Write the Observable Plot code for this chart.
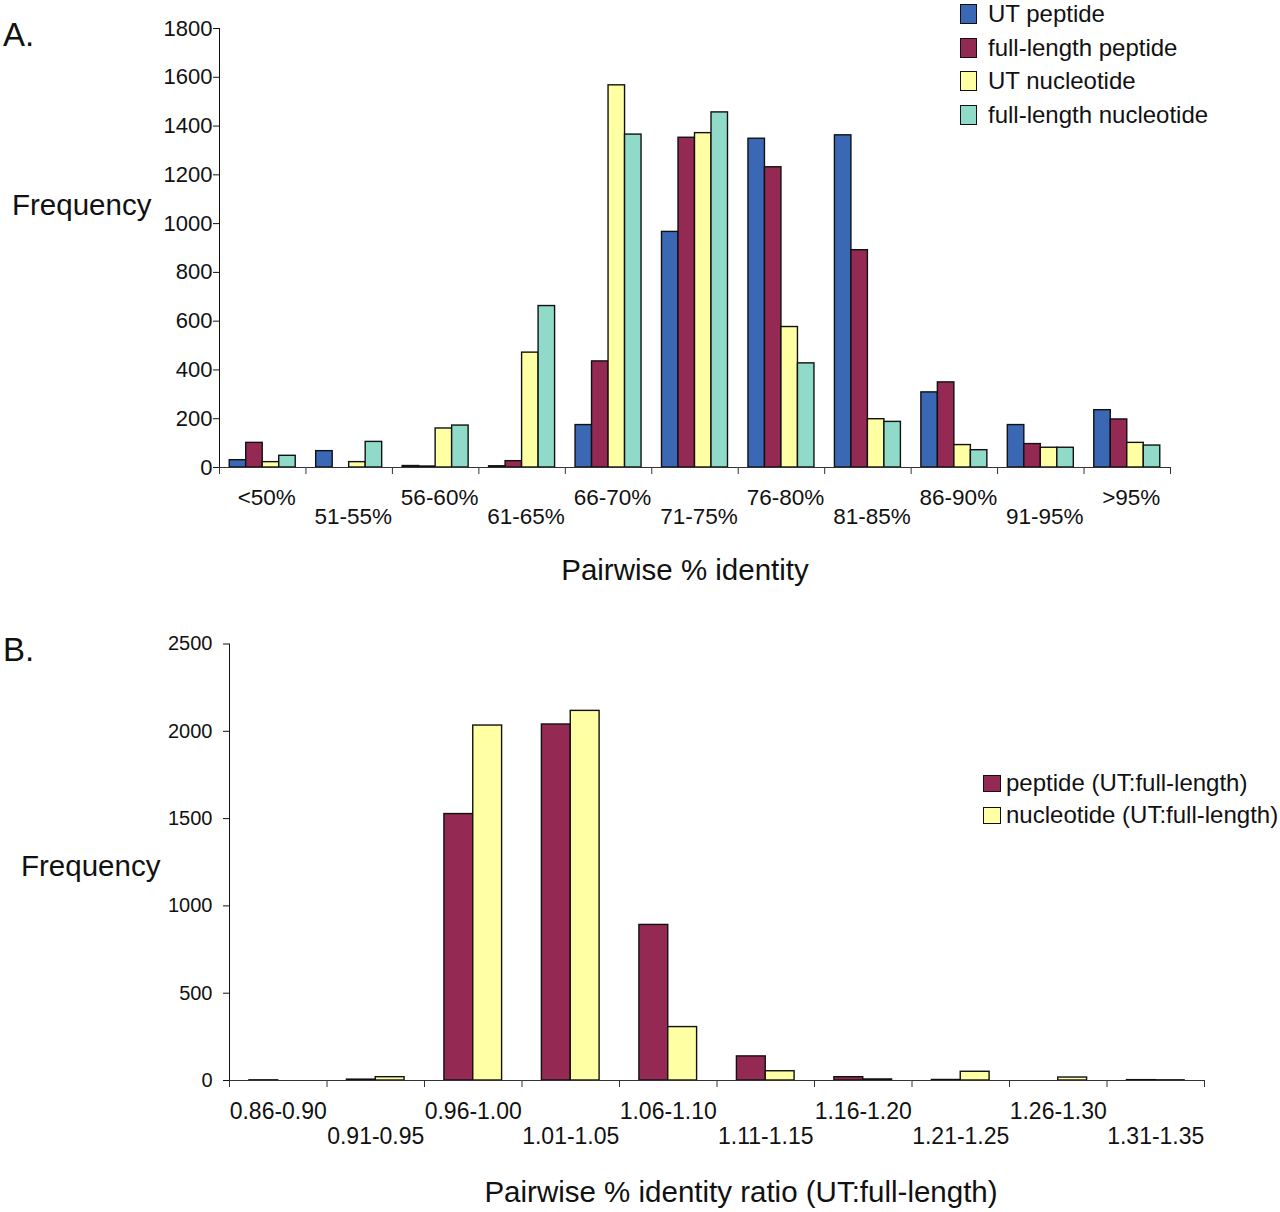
<!DOCTYPE html>
<html>
<head>
<meta charset="utf-8">
<script src="https://cdn.jsdelivr.net/npm/d3@7"></script>
<script src="https://cdn.jsdelivr.net/npm/@observablehq/plot@0.6"></script>
<style>
  body { margin: 0; background: white; }
  #page { position: relative; width: 1280px; height: 1212px; font-family: "Liberation Sans", Arial, sans-serif; color: #111; }
  .abs { position: absolute; white-space: nowrap; line-height: 1; }
  .sw { position: absolute; border: 1.5px solid #111; box-sizing: border-box; }
</style>
</head>
<body>
<div id="page">
  <div id="chartA" class="abs" style="left:0;top:0"></div>
  <div id="chartB" class="abs" style="left:0;top:620px"></div>

  <div class="abs" style="left:3px;top:18px;font-size:33px">A.</div>
  <div class="abs" style="left:12px;top:190px;font-size:29.5px">Frequency</div>
  <div class="abs" style="left:685px;top:555px;font-size:29.5px;transform:translateX(-50%)">Pairwise % identity</div>
  <div id="legendA"></div>

  <div class="abs" style="left:3px;top:633px;font-size:33px">B.</div>
  <div class="abs" style="left:21px;top:851px;font-size:29.5px">Frequency</div>
  <div class="abs" style="left:741px;top:1177px;font-size:29.5px;transform:translateX(-50%)">Pairwise % identity ratio (UT:full-length)</div>
  <div id="legendB"></div>
</div>
<script>
// A. pairwise % identity
const catsA = ['<50%', '51-55%', '56-60%', '61-65%', '66-70%', '71-75%', '76-80%', '81-85%', '86-90%', '91-95%', '>95%']
const seriesA = ['UT peptide', 'full-length peptide', 'UT nucleotide', 'full-length nucleotide']
const utPeptide = [30, 67, 6, 5, 174, 966, 1348, 1362, 308, 174, 235]
const flPeptide = [101, 0, 4, 26, 435, 1352, 1231, 891, 349, 96, 197]
const utNucleotide = [22, 22, 160, 471, 1567, 1371, 576, 198, 92, 81, 101]
const flNucleotide = [48, 105, 172, 662, 1365, 1456, 427, 187, 71, 81, 90]
const colorsA = ['#3a68b5', '#942a53', '#ffffa3', '#8fdac9']

// B. identity ratio
const catsB = ['0.86-0.90', '0.91-0.95', '0.96-1.00', '1.01-1.05', '1.06-1.10', '1.11-1.15', '1.16-1.20', '1.21-1.25', '1.26-1.30', '1.31-1.35']
const seriesB = ['peptide (UT:full-length)', 'nucleotide (UT:full-length)']
const peptideRatio = [1, 5, 1526, 2039, 891, 138, 19, 3, 0, 2]
const nucleotideRatio = [0, 19, 2033, 2117, 306, 53, 6, 50, 17, 1]
const colorsB = ['#942a53', '#ffffa3']

const font = '"Liberation Sans", Arial, sans-serif'

const rowsA = []
;[utPeptide, flPeptide, utNucleotide, flNucleotide].forEach((vals, s) => {
  vals.forEach((v, i) => rowsA.push({cat: catsA[i], series: seriesA[s], value: v}))
})
const rowsB = []
;[peptideRatio, nucleotideRatio].forEach((vals, s) => {
  vals.forEach((v, i) => rowsB.push({cat: catsB[i], series: seriesB[s], value: v}))
})

// grouped bars: one facet per category, boundary ticks drawn at facet edges
function groupedChart({rows, cats, series, colors, width, height, marginLeft, marginRight, marginTop, marginBottom, yMax, yTicks, tickFont, tickPadding, labelFont, dyEven, dyOdd, labelDx, padOuter, tickLen}) {
  const bw = (width - marginLeft - marginRight) / cats.length
  const tickUnits = yMax * tickLen / (height - marginTop - marginBottom)
  return Plot.plot({
    width, height, marginLeft, marginRight, marginTop, marginBottom,
    style: {fontFamily: font, fontSize: tickFont + 'px', color: '#111', background: 'none', overflow: 'visible'},
    fx: {domain: cats, paddingInner: 0, paddingOuter: 0, round: false, axis: null, label: null},
    x: {domain: series, paddingInner: 0, paddingOuter: padOuter, round: false, axis: null},
    y: {domain: [0, yMax], ticks: yTicks, tickFormat: d => String(d), line: true, tickSize: 6, tickPadding, label: null},
    color: {domain: series, range: colors},
    marks: [
      Plot.barY(rows, {fx: 'cat', x: 'series', y: 'value', fill: 'series', stroke: '#111', strokeWidth: 1.4}),
      Plot.ruleY([0], {stroke: '#333'}),
      Plot.ruleX(cats, {fx: d => d, x: null, y1: 0, y2: -tickUnits, dx: -bw / 2, stroke: '#333'}),
      Plot.ruleX(cats.slice(-1), {fx: d => d, x: null, y1: 0, y2: -tickUnits, dx: bw / 2, stroke: '#333'}),
      Plot.text(cats.filter((d, i) => i % 2 === 0), {fx: d => d, text: d => d, frameAnchor: 'bottom', dy: dyEven, dx: labelDx, fontSize: labelFont, fill: '#111'}),
      Plot.text(cats.filter((d, i) => i % 2 === 1), {fx: d => d, text: d => d, frameAnchor: 'bottom', dy: dyOdd, dx: labelDx, fontSize: labelFont, fill: '#111'})
    ]
  })
}

const chartA = groupedChart({
  rows: rowsA, cats: catsA, series: seriesA, colors: colorsA,
  width: 1280, height: 600, marginLeft: 219, marginRight: 110, marginTop: 28, marginBottom: 133,
  yMax: 1800, yTicks: 9, tickFont: 22, tickPadding: 1, labelFont: 22.5, dyEven: 37, dyOdd: 56, labelDx: 4, padOuter: 0.62, tickLen: 7
})
d3.select('#chartA').append(() => chartA)

const chartB = groupedChart({
  rows: rowsB, cats: catsB, series: seriesB, colors: colorsB,
  width: 1280, height: 592, marginLeft: 229, marginRight: 76, marginTop: 23.5, marginBottom: 132,
  yMax: 2500, yTicks: 5, tickFont: 20, tickPadding: 11, labelFont: 23, dyEven: 38, dyOdd: 63, labelDx: 0, padOuter: 0.69, tickLen: 7
})
d3.select('#chartB').append(() => chartB)

// legends
function legend(sel, series, colors, {left, top, step, sw, sh, textLeft, size}) {
  const root = d3.select(sel)
  series.forEach((s, i) => {
    const cy = top + i * step
    root.append('div').attr('class', 'sw')
      .style('left', left + 'px').style('top', (cy - sh / 2) + 'px')
      .style('width', sw + 'px').style('height', sh + 'px')
      .style('background', colors[i])
    root.append('div').attr('class', 'abs')
      .style('left', textLeft + 'px').style('top', (cy - size * 0.5) + 'px')
      .style('font-size', size + 'px').text(s)
  })
}
legend('#legendA', seriesA, colorsA, {left: 960, top: 14, step: 33.5, sw: 17, sh: 20, textLeft: 988, size: 24})
legend('#legendB', seriesB, colorsB, {left: 983, top: 783, step: 32, sw: 18, sh: 17, textLeft: 1006, size: 24})
</script>
</body>
</html>
